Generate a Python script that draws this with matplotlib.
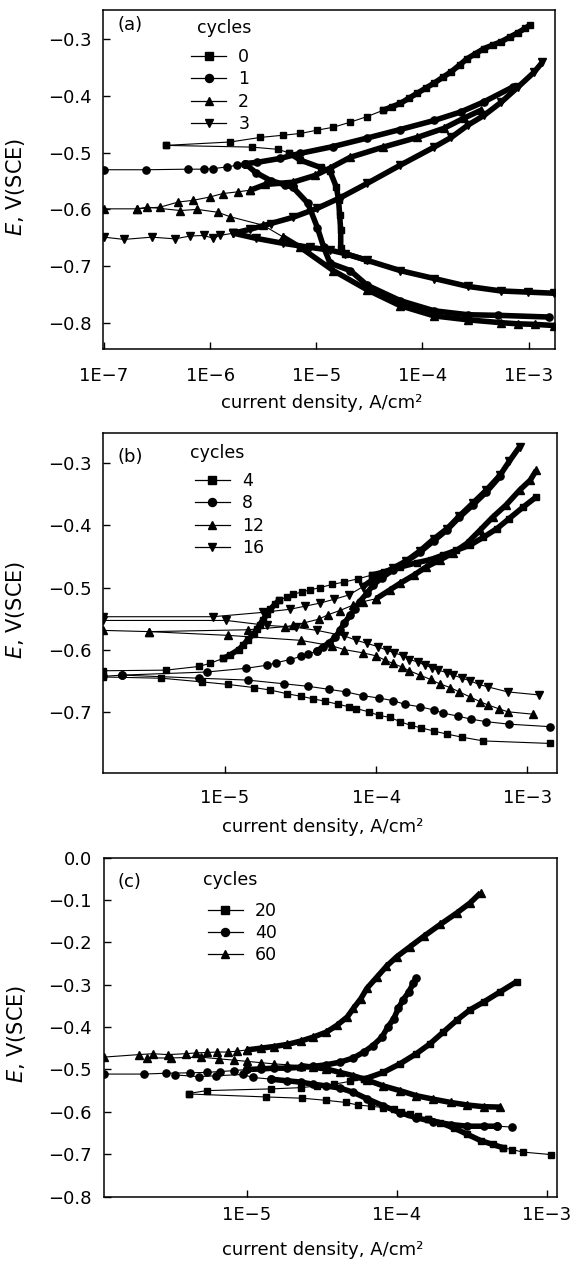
import numpy as np
import matplotlib
matplotlib.use("Agg")
import matplotlib.pyplot as plt
from matplotlib.lines import Line2D
from matplotlib.ticker import FixedLocator, FuncFormatter, NullLocator

plt.rcParams['font.family'] = ['DejaVu Sans']
plt.rcParams['mathtext.fontset'] = 'dejavusans'

# current densities are given as log10(i / A cm-2), potentials in V(SCE)

# ---- panel (a): 0-3 cycles ----
a0_anod_i = [-6.42, -5.81, -5.53, -5.31, -5.15, -4.99, -4.84, -4.68, -4.52, -4.37]
a0_anod_e = [-0.487, -0.481, -0.473, -0.469, -0.466, -0.460, -0.455, -0.446, -0.436, -0.425]
a0_anod2_i = [-4.37, -4.29, -4.21, -4.13, -4.05, -3.97, -3.89, -3.81, -3.73, -3.65,
              -3.58, -3.50, -3.42, -3.34, -3.26, -3.18, -3.10, -3.03, -2.99]
a0_anod2_e = [-0.425, -0.419, -0.413, -0.404, -0.395, -0.386, -0.377, -0.367, -0.357, -0.345,
              -0.334, -0.325, -0.316, -0.310, -0.304, -0.296, -0.288, -0.280, -0.275]
a0_cath_i = [-6.42, -5.61, -5.36, -5.26]
a0_cath_e = [-0.487, -0.490, -0.494, -0.500]
a0_cath2_i = [-5.26, -5.15, -4.96, -4.87, -4.81, -4.79, -4.78, -4.77, -4.77, -4.73, -4.52]
a0_cath2_e = [-0.500, -0.513, -0.526, -0.533, -0.561, -0.584, -0.610, -0.637, -0.669, -0.678, -0.690]

a1_row_i = [-7.0, -6.60, -6.21, -6.06, -5.97, -5.84, -5.75, -5.67]
a1_row_e = [-0.530, -0.530, -0.529, -0.529, -0.528, -0.525, -0.522, -0.519]
a1_anod_i = [-5.67, -5.56, -5.34, -5.15, -4.84, -4.52, -4.21, -3.89, -3.64, -3.42, -3.15]
a1_anod_e = [-0.519, -0.517, -0.510, -0.501, -0.489, -0.474, -0.459, -0.443, -0.428, -0.410, -0.384]
a1_cath_i = [-5.67, -5.57, -5.43, -5.29, -5.22, -5.08, -4.99, -4.93, -4.87, -4.68,
             -4.52, -4.21, -3.89, -3.57, -3.29, -2.81]
a1_cath_e = [-0.519, -0.535, -0.549, -0.557, -0.561, -0.589, -0.632, -0.667, -0.695, -0.708,
             -0.734, -0.761, -0.779, -0.786, -0.787, -0.790]

a2_row_i = [-7.0, -6.69, -6.47, -6.30, -6.16, -6.00, -5.88, -5.74, -5.62]
a2_row_e = [-0.599, -0.599, -0.596, -0.587, -0.584, -0.578, -0.572, -0.569, -0.566]
a2_anod_i = [-5.62, -5.48, -5.22, -5.01, -4.87, -4.68, -4.37, -4.05, -3.80, -3.61, -3.45]
a2_anod_e = [-0.566, -0.556, -0.552, -0.540, -0.527, -0.508, -0.490, -0.473, -0.457, -0.439, -0.425]
a2_cath_i = [-6.69, -6.59, -6.28, -6.12, -5.93, -5.81, -5.50, -5.31]
a2_cath_e = [-0.599, -0.596, -0.602, -0.600, -0.605, -0.613, -0.628, -0.649]
a2_cath2_i = [-5.31, -5.15, -4.84, -4.52, -4.21, -3.89, -3.57, -3.26, -3.10, -2.94, -2.76]
a2_cath2_e = [-0.649, -0.667, -0.708, -0.742, -0.770, -0.788, -0.795, -0.800, -0.802, -0.803, -0.805]

a3_row_i = [-7.0, -6.81, -6.55, -6.33, -6.19, -6.06, -5.97, -5.91, -5.78]
a3_row_e = [-0.649, -0.653, -0.649, -0.652, -0.647, -0.646, -0.651, -0.646, -0.642]
a3_anod_i = [-5.78, -5.62, -5.43, -5.22, -4.99, -4.77, -4.52, -4.21, -3.89, -3.73,
             -3.57, -3.42, -3.26, -3.10, -2.95, -2.87]
a3_anod_e = [-0.642, -0.635, -0.625, -0.614, -0.598, -0.579, -0.554, -0.522, -0.490, -0.473,
             -0.451, -0.434, -0.411, -0.384, -0.358, -0.340]
a3_cath_i = [-5.78, -5.57, -5.31, -5.06, -4.87, -4.73, -4.52, -4.21, -3.89, -3.57, -3.26, -3.01, -2.76]
a3_cath_e = [-0.642, -0.651, -0.660, -0.667, -0.672, -0.678, -0.690, -0.708, -0.722, -0.736, -0.744, -0.746, -0.748]

# ---- panel (b): 4-16 cycles ----
b4_anod_i = [-5.805, -5.39, -5.17, -5.10, -5.01]
b4_anod_e = [-0.634, -0.633, -0.627, -0.622, -0.614]
b4_s_i = [-5.01, -4.97, -4.91, -4.88, -4.85, -4.81, -4.79, -4.77, -4.75, -4.72, -4.70, -4.67, -4.64]
b4_s_e = [-0.614, -0.609, -0.600, -0.593, -0.584, -0.575, -0.567, -0.560, -0.552, -0.543, -0.535, -0.527, -0.520]
b4_mid_i = [-4.64, -4.59, -4.55, -4.49, -4.44, -4.37, -4.29, -4.21, -4.12, -4.03]
b4_mid_e = [-0.520, -0.515, -0.511, -0.507, -0.504, -0.500, -0.495, -0.491, -0.486, -0.480]
b4_top_i = [-4.03, -3.95, -3.84, -3.73, -3.64, -3.56, -3.47, -3.38, -3.29, -3.20, -3.12, -3.03, -2.94]
b4_top_e = [-0.480, -0.475, -0.467, -0.460, -0.455, -0.448, -0.440, -0.432, -0.419, -0.405, -0.389, -0.371, -0.354]
b4_cath_i = [-5.805, -5.42, -5.15, -4.98, -4.81, -4.70, -4.59, -4.50, -4.42, -4.34, -4.25, -4.18,
             -4.13, -4.05, -3.98, -3.91, -3.84, -3.77, -3.70, -3.62, -3.53, -3.43, -3.29, -2.85]
b4_cath_e = [-0.644, -0.646, -0.652, -0.656, -0.661, -0.665, -0.671, -0.675, -0.679, -0.683, -0.688, -0.692,
             -0.695, -0.700, -0.706, -0.709, -0.716, -0.722, -0.726, -0.731, -0.736, -0.741, -0.747, -0.751]

b8_cath_i = [-5.805, -5.68, -5.17, -4.85, -4.61, -4.45, -4.31, -4.20, -4.09, -3.98,
             -3.89, -3.81, -3.71, -3.62, -3.56, -3.46, -3.37, -3.27, -3.12, -2.85]
b8_cath_e = [-0.643, -0.641, -0.646, -0.649, -0.655, -0.659, -0.664, -0.668, -0.674, -0.678,
             -0.682, -0.688, -0.692, -0.697, -0.702, -0.707, -0.712, -0.716, -0.720, -0.724]
b8_anod_i = [-5.68, -5.12, -4.86, -4.72, -4.66, -4.57, -4.50, -4.45, -4.39]
b8_anod_e = [-0.641, -0.636, -0.630, -0.625, -0.621, -0.616, -0.611, -0.607, -0.602]
b8_s_i = [-4.39, -4.35, -4.31, -4.27, -4.24, -4.21, -4.17, -4.14, -4.11, -4.06, -4.02,
          -3.96, -3.89, -3.80, -3.71, -3.62, -3.53, -3.45, -3.36, -3.27, -3.18]
b8_s_e = [-0.602, -0.595, -0.589, -0.580, -0.569, -0.557, -0.544, -0.534, -0.523, -0.509, -0.496,
          -0.484, -0.472, -0.458, -0.443, -0.425, -0.407, -0.387, -0.367, -0.346, -0.321]

b12_anod_i = [-5.805, -5.50, -4.85, -4.60, -4.55, -4.48, -4.38, -4.32, -4.24, -4.15, -4.09, -4.00]
b12_anod_e = [-0.569, -0.571, -0.568, -0.563, -0.561, -0.557, -0.551, -0.544, -0.537, -0.528, -0.523, -0.518]
b12_top_i = [-4.00, -3.91, -3.84, -3.75, -3.67, -3.58, -3.49, -3.40, -3.31, -3.23, -3.14, -3.05, -2.98, -2.94]
b12_top_e = [-0.518, -0.504, -0.493, -0.480, -0.467, -0.456, -0.444, -0.429, -0.407, -0.387, -0.367, -0.343, -0.327, -0.311]
b12_cath_i = [-5.50, -4.98, -4.50, -4.29, -4.21, -4.09, -4.00, -3.94, -3.89, -3.83, -3.78,
              -3.71, -3.64, -3.58, -3.51, -3.45, -3.38, -3.31, -3.26, -3.19, -3.13, -2.96]
b12_cath_e = [-0.571, -0.577, -0.585, -0.594, -0.600, -0.605, -0.610, -0.617, -0.622, -0.628, -0.634,
              -0.641, -0.648, -0.655, -0.661, -0.668, -0.676, -0.684, -0.689, -0.695, -0.700, -0.704]

b16_anod_i = [-5.805, -5.08, -4.75, -4.57, -4.47, -4.37, -4.28, -4.18, -4.09]
b16_anod_e = [-0.547, -0.547, -0.540, -0.535, -0.530, -0.525, -0.519, -0.512, -0.499]
b16_top_i = [-4.09, -4.00, -3.89, -3.80, -3.71, -3.62, -3.53, -3.45, -3.36, -3.27, -3.18, -3.12, -3.05]
b16_top_e = [-0.499, -0.483, -0.469, -0.457, -0.441, -0.422, -0.405, -0.385, -0.364, -0.343, -0.319, -0.297, -0.273]
b16_cath_i = [-5.805, -4.99, -4.72, -4.53, -4.39, -4.21, -4.13, -4.06, -3.99, -3.93, -3.88, -3.82, -3.78,
              -3.72, -3.68, -3.63, -3.59, -3.53, -3.49, -3.43, -3.38, -3.32, -3.26, -3.13, -2.92]
b16_cath_e = [-0.553, -0.553, -0.561, -0.564, -0.569, -0.578, -0.585, -0.590, -0.595, -0.601, -0.605, -0.610, -0.616,
              -0.620, -0.625, -0.629, -0.633, -0.637, -0.641, -0.646, -0.650, -0.656, -0.660, -0.668, -0.673]

# ---- panel (c): 20-60 cycles ----
c20_anod_i = [-5.39, -5.27, -4.84, -4.64, -4.53, -4.42, -4.31, -4.22]
c20_anod_e = [-0.557, -0.550, -0.546, -0.543, -0.539, -0.535, -0.528, -0.523]
c20_top_i = [-4.22, -4.09, -3.98, -3.87, -3.78, -3.69, -3.60, -3.51, -3.42, -3.31, -3.20]
c20_top_e = [-0.523, -0.507, -0.487, -0.463, -0.440, -0.412, -0.384, -0.359, -0.341, -0.317, -0.293]
c20_cath_i = [-5.39, -4.87, -4.63, -4.47, -4.34, -4.26, -4.17, -4.09, -4.02, -3.97, -3.91, -3.86, -3.79]
c20_cath_e = [-0.558, -0.565, -0.568, -0.573, -0.578, -0.584, -0.587, -0.590, -0.594, -0.600, -0.606, -0.611, -0.618]
c20_cath2_i = [-3.79, -3.71, -3.62, -3.53, -3.44, -3.36, -3.29]
c20_cath2_e = [-0.618, -0.626, -0.638, -0.653, -0.668, -0.677, -0.685]
c20_tail_i = [-3.29, -3.23, -3.16, -2.97]
c20_tail_e = [-0.685, -0.689, -0.695, -0.701]

c40_row_i = [-5.956, -5.69, -5.54, -5.38, -5.27, -5.18, -5.09, -5.00]
c40_row_e = [-0.511, -0.511, -0.509, -0.508, -0.507, -0.505, -0.503, -0.500]
c40_anod_i = [-5.00, -4.91, -4.82, -4.73, -4.64, -4.56, -4.47, -4.38, -4.29, -4.22,
              -4.16, -4.10, -4.06, -4.02, -3.99, -3.96, -3.92, -3.89, -3.87]
c40_anod_e = [-0.500, -0.499, -0.497, -0.497, -0.495, -0.493, -0.489, -0.483, -0.473, -0.459,
              -0.444, -0.424, -0.400, -0.380, -0.356, -0.337, -0.317, -0.297, -0.285]
c40_cath_i = [-5.48, -5.32, -5.21, -5.03, -4.96, -4.84]
c40_cath_e = [-0.513, -0.517, -0.515, -0.512, -0.519, -0.523]
c40_cath2_i = [-4.84, -4.73, -4.64, -4.56, -4.47, -4.38, -4.29, -4.20, -4.09, -3.98,
               -3.87, -3.76, -3.64, -3.53, -3.42, -3.33]
c40_cath2_e = [-0.523, -0.527, -0.530, -0.535, -0.539, -0.544, -0.554, -0.569, -0.586, -0.602,
               -0.614, -0.623, -0.630, -0.634, -0.634, -0.634]
c40_tail_i = [-3.33, -3.23]
c40_tail_e = [-0.634, -0.636]

c60_anod_i = [-5.956, -5.72, -5.63, -5.53, -5.41, -5.34, -5.27, -5.20, -5.13, -5.07, -5.00]
c60_anod_e = [-0.471, -0.465, -0.463, -0.465, -0.463, -0.461, -0.460, -0.459, -0.459, -0.457, -0.454]
c60_top_i = [-5.00, -4.91, -4.82, -4.73, -4.64, -4.56, -4.47, -4.40, -4.33, -4.29, -4.24,
             -4.20, -4.13, -4.07, -4.00, -3.91, -3.82, -3.71, -3.60, -3.51, -3.44]
c60_top_e = [-0.454, -0.450, -0.446, -0.441, -0.433, -0.424, -0.412, -0.396, -0.376, -0.356, -0.333,
             -0.309, -0.281, -0.257, -0.234, -0.210, -0.186, -0.158, -0.131, -0.107, -0.083]
c60_cath_i = [-5.67, -5.51, -5.31, -5.19, -5.09, -5.00, -4.91, -4.82, -4.73, -4.64]
c60_cath_e = [-0.473, -0.473, -0.471, -0.475, -0.478, -0.481, -0.484, -0.487, -0.489, -0.491]
c60_cath2_i = [-4.64, -4.56, -4.47, -4.38, -4.29, -4.20, -4.09, -3.98, -3.87, -3.76, -3.64, -3.53, -3.42, -3.31]
c60_cath2_e = [-0.491, -0.495, -0.499, -0.507, -0.515, -0.525, -0.539, -0.550, -0.562, -0.570, -0.578, -0.584, -0.588, -0.589]

MS = {'s': 4.6, 'o': 5.2, '^': 5.6, 'v': 5.6}


def draw(ax, li, e, mk, dense=False):
    ax.plot(10.0 ** np.asarray(li), e, color='k', lw=4.0 if dense else 0.8,
            marker=mk, ms=MS[mk], mfc='k', mec='k', solid_capstyle='butt')


def fmt_e(v, pos):
    if abs(v) < 1e-9:
        return '0.0'
    return ('%.1f' % v).replace('-', '\u2212')


def fmt_i(v, pos):
    return '1E\u2212%d' % int(round(-np.log10(v)))


def style(ax, xlim, ylim, xt, yt, xpad, tag, tagy, names, marks, titlexy, legxy):
    ax.set_xscale('log')
    ax.set_xlim(*xlim)
    ax.set_ylim(*ylim)
    ax.xaxis.set_major_locator(FixedLocator(xt))
    ax.xaxis.set_minor_locator(NullLocator())
    ax.xaxis.set_major_formatter(FuncFormatter(fmt_i))
    ax.yaxis.set_major_locator(FixedLocator(yt))
    ax.yaxis.set_major_formatter(FuncFormatter(fmt_e))
    ax.tick_params(direction='in', length=5, width=1.0, labelsize=13, top=False, right=False)
    ax.tick_params(axis='x', pad=xpad)
    ax.tick_params(axis='y', pad=8.5)
    for sp in ax.spines.values():
        sp.set_linewidth(1.1)
    ax.set_xlabel('current density, A/cm\u00b2', fontsize=13)
    ax.xaxis.set_label_coords(0.483, -0.158)
    ax.xaxis.label.set_va('center')
    ax.set_ylabel('$\\it{E}$, V(SCE)', fontsize=15)
    ax.yaxis.set_label_coords(-0.193, 0.48)
    ax.yaxis.label.set_va('center')
    ax.text(0.031, tagy, tag, transform=ax.transAxes, fontsize=13, ha='left', va='center')
    ax.text(titlexy[0], titlexy[1], 'cycles', transform=ax.transAxes, fontsize=12.5,
            ha='left', va='center')
    handles = [Line2D([0], [0], color='k', lw=0.9, marker=m, ms=MS[m] + 0.6) for m in marks]
    ax.legend(handles, names, loc='upper left', bbox_to_anchor=legxy,
              frameon=False, fontsize=12.5, handlelength=2.0,
              handletextpad=0.7, labelspacing=0.25, borderaxespad=0, borderpad=0)


fig = plt.figure(figsize=(5.72, 12.67), dpi=100)

# panel (a)
ax = fig.add_axes([0.1804, 0.7243, 0.7904, 0.2678])
draw(ax, a0_anod_i, a0_anod_e, 's')
draw(ax, a0_anod2_i, a0_anod2_e, 's', True)
draw(ax, a0_cath_i, a0_cath_e, 's')
draw(ax, a0_cath2_i, a0_cath2_e, 's', True)
draw(ax, a1_row_i, a1_row_e, 'o')
draw(ax, a1_anod_i, a1_anod_e, 'o', True)
draw(ax, a1_cath_i, a1_cath_e, 'o', True)
draw(ax, a2_row_i, a2_row_e, '^')
draw(ax, a2_anod_i, a2_anod_e, '^', True)
draw(ax, a2_cath_i, a2_cath_e, '^')
draw(ax, a2_cath2_i, a2_cath2_e, '^', True)
draw(ax, a3_row_i, a3_row_e, 'v')
draw(ax, a3_anod_i, a3_anod_e, 'v', True)
draw(ax, a3_cath_i, a3_cath_e, 'v', True)
style(ax, (10 ** -7.007, 10 ** -2.749), (-0.847, -0.248),
      [1e-7, 1e-6, 1e-5, 1e-4, 1e-3], [-0.8, -0.7, -0.6, -0.5, -0.4, -0.3], 13,
      '(a)', 0.956, ['0', '1', '2', '3'], ['s', 'o', '^', 'v'], (0.2075, 0.947), (0.195, 0.888))

# panel (b)
ax = fig.add_axes([0.1806, 0.3900, 0.7925, 0.2680])
draw(ax, b4_anod_i, b4_anod_e, 's')
draw(ax, b4_s_i, b4_s_e, 's', True)
draw(ax, b4_mid_i, b4_mid_e, 's')
draw(ax, b4_top_i, b4_top_e, 's', True)
draw(ax, b4_cath_i, b4_cath_e, 's')
draw(ax, b8_cath_i, b8_cath_e, 'o')
draw(ax, b8_anod_i, b8_anod_e, 'o')
draw(ax, b8_s_i, b8_s_e, 'o', True)
draw(ax, b12_anod_i, b12_anod_e, '^')
draw(ax, b12_top_i, b12_top_e, '^', True)
draw(ax, b12_cath_i, b12_cath_e, '^')
draw(ax, b16_anod_i, b16_anod_e, 'v')
draw(ax, b16_top_i, b16_top_e, 'v', True)
draw(ax, b16_cath_i, b16_cath_e, 'v')
style(ax, (10 ** -5.805, 10 ** -2.806), (-0.7984, -0.2517),
      [1e-5, 1e-4, 1e-3], [-0.8, -0.7, -0.6, -0.5, -0.4, -0.3], 11.5,
      '(b)', 0.931, ['4', '8', '12', '16'], ['s', 'o', '^', 'v'], (0.191, 0.942), (0.202, 0.886))

# panel (c)
ax = fig.add_axes([0.1815, 0.0556, 0.7927, 0.2676])
draw(ax, c20_anod_i, c20_anod_e, 's')
draw(ax, c20_top_i, c20_top_e, 's', True)
draw(ax, c20_cath_i, c20_cath_e, 's')
draw(ax, c20_cath2_i, c20_cath2_e, 's', True)
draw(ax, c20_tail_i, c20_tail_e, 's')
draw(ax, c40_row_i, c40_row_e, 'o')
draw(ax, c40_anod_i, c40_anod_e, 'o', True)
draw(ax, c40_cath_i, c40_cath_e, 'o')
draw(ax, c40_cath2_i, c40_cath2_e, 'o', True)
draw(ax, c40_tail_i, c40_tail_e, 'o')
draw(ax, c60_anod_i, c60_anod_e, '^')
draw(ax, c60_top_i, c60_top_e, '^', True)
draw(ax, c60_cath_i, c60_cath_e, '^')
draw(ax, c60_cath2_i, c60_cath2_e, '^', True)
style(ax, (10 ** -5.956, 10 ** -2.929), (-0.80, 0.0),
      [1e-5, 1e-4, 1e-3], [-0.8, -0.7, -0.6, -0.5, -0.4, -0.3, -0.2, -0.1, 0.0], 6.5,
      '(c)', 0.929, ['20', '40', '60'], ['s', 'o', '^'], (0.219, 0.934), (0.230, 0.870))

fig.savefig('out.png', dpi=100)
